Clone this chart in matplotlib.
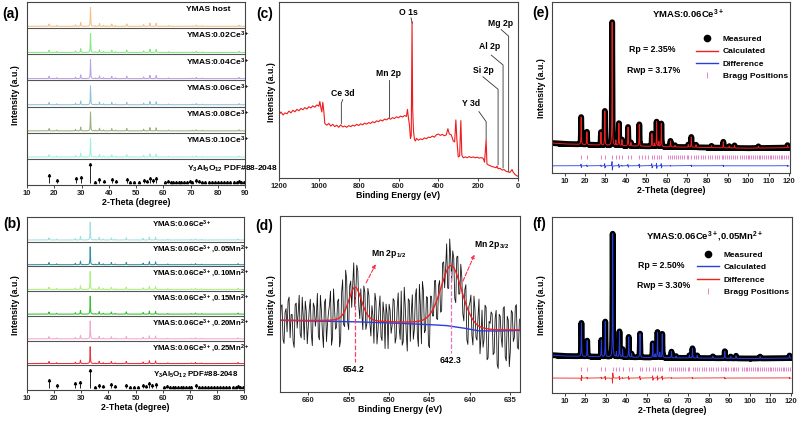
import numpy as np
import matplotlib
matplotlib.use('Agg')
import matplotlib.pyplot as plt
from matplotlib.lines import Line2D

plt.rcParams['font.family'] = ['Liberation Sans', 'DejaVu Sans']
plt.rcParams['font.weight'] = 'bold'
plt.rcParams['mathtext.fontset'] = 'custom'
plt.rcParams['mathtext.rm'] = 'Liberation Sans:bold'
plt.rcParams['mathtext.bf'] = 'Liberation Sans:bold'
plt.rcParams['mathtext.it'] = 'Liberation Sans:bold'
plt.rcParams['mathtext.default'] = 'bf'
plt.rcParams['axes.linewidth'] = 0.8
plt.rcParams['axes.edgecolor'] = '#444444'

# ---- (a) / (b) XRD stacks ----
xrd_pos = [18.1, 20.9, 27.8, 29.7, 33.3, 35.1, 36.6, 38.1, 41.1, 42.5, 46.6, 52.8, 55.1, 57.4, 61.9, 70.6, 72.1, 74.4, 87.8]
xrd_int = [0.12, 0.05, 0.08, 0.2, 1.0, 0.03, 0.14, 0.05, 0.12, 0.04, 0.13, 0.09, 0.17, 0.16, 0.04, 0.03, 0.06, 0.03, 0.06]

a_labels = ['YMAS host', 'YMAS:0.02Ce$^{3+}$', 'YMAS:0.04Ce$^{3+}$', 'YMAS:0.06Ce$^{3+}$',
            'YMAS:0.08Ce$^{3+}$', 'YMAS:0.10Ce$^{3+}$']
a_colors = ['#f2c083', '#80ec80', '#b9a2e0', '#90c0d8', '#98b07a', '#a0f0e0']
a_scales = [0.85, 0.85, 0.85, 0.85, 0.85, 0.85]

b_labels = ['YMAS:0.06Ce$^{3+}$', 'YMAS:0.06Ce$^{3+}$,0.05Mn$^{2+}$', 'YMAS:0.06Ce$^{3+}$,0.10Mn$^{2+}$',
            'YMAS:0.06Ce$^{3+}$,0.15Mn$^{2+}$', 'YMAS:0.06Ce$^{3+}$,0.20Mn$^{2+}$', 'YMAS:0.06Ce$^{3+}$,0.25Mn$^{2+}$']
b_colors = ['#a0e0e0', '#3090a0', '#a8f080', '#30c030', '#f0a8d0', '#e83040']
b_scales = [0.85, 0.85, 0.85, 0.85, 0.85, 0.8]

pdf_pos = [18.1, 20.9, 27.8, 29.7, 33.3, 35.1, 36.6, 38.1, 41.1, 42.5, 46.6, 47.8, 49.4, 51.0, 52.8,
           53.9, 55.1, 56.2, 57.4, 60.6, 61.7, 62.7, 63.7, 64.6, 65.6, 66.6, 67.6, 68.6, 69.9, 70.6,
           72.2, 73.3, 74.4, 75.5, 76.8, 77.8, 78.9, 80.2, 81.2, 82.2, 83.5, 84.6, 85.8, 87.0, 87.8,
           88.6, 89.5]
pdf_int = [0.32, 0.14, 0.2, 0.25, 0.75, 0.06, 0.15, 0.1, 0.16, 0.1, 0.15, 0.05, 0.06, 0.06, 0.12,
           0.1, 0.2, 0.14, 0.18, 0.04, 0.08, 0.05, 0.06, 0.04, 0.05, 0.04, 0.04, 0.05, 0.07, 0.06,
           0.12, 0.07, 0.06, 0.04, 0.05, 0.04, 0.04, 0.05, 0.04, 0.04, 0.04, 0.05, 0.04, 0.05, 0.08,
           0.06, 0.06]
pdf_label = 'Y$_3$Al$_5$O$_{12}$ PDF#88-2048'

# ---- (c) XPS survey ----
c_ev = [1200, 1190, 1180, 1170, 1160, 1150, 1140, 1130, 1120, 1110, 1100, 1090, 1080, 1070, 1060, 1050,
        1040, 1030, 1020, 1010, 1000, 995, 990, 985, 980, 975, 970, 960, 950, 940, 930, 920, 910, 900,
        890, 880, 870, 860, 850, 840, 830, 820, 810, 800, 790, 780, 770, 760, 750, 740, 730, 720, 710,
        700, 690, 680, 670, 660, 650, 640, 630, 620, 610, 600, 590, 580, 570, 560, 555, 550, 545, 540,
        536, 532, 529, 525, 520, 515, 510, 500, 490, 480, 470, 460, 450, 440, 430, 420, 410, 400, 390,
        380, 370, 360, 352, 345, 335, 325, 318, 312, 307, 300, 293, 287, 282, 275, 265, 255, 245, 235,
        225, 215, 205, 195, 185, 175, 168, 160, 156, 150, 140, 130, 120, 110, 105, 100, 90, 80, 70, 60,
        50, 40, 30, 25, 15, 5, 0]
c_int = [36, 37.5, 35.8, 37, 36.5, 38, 37, 38.5, 37.6, 39, 38.2, 39.5, 38.8, 40, 39.2, 40.5,
         39.8, 41, 40.2, 41.5, 40.8, 43.5, 40, 37.5, 43, 38, 31, 30, 31, 29.5, 30.5, 29.2, 30, 28.8,
         30.2, 29, 29.5, 28.8, 29.8, 29.2, 30, 29.5, 30.5, 29.8, 30.8, 30.2, 31.2, 30.6, 31.5, 31, 32, 31.4, 32.5,
         32, 33, 32.4, 33.5, 33, 34, 33.4, 34.3, 33.8, 34.8, 34.2, 35.2, 34.6, 35.5, 35, 39, 34, 30, 22.5,
         24, 88.7, 40, 27, 22, 21, 22.5, 21.5, 22.2, 21.8, 22.8, 22.3, 23.2, 23, 23.8, 23.2, 24.5, 25, 24.2,
         24.8, 24, 24.5, 28, 25, 24.5, 21, 20.5, 33, 22, 12, 12.5, 32.6, 13, 11.5, 12, 11.5, 12.2, 11.6,
         12, 11.5, 11.8, 11.3, 11.6, 11.2, 9, 21.7, 8, 7.5, 7, 6.5, 6.2, 5.8, 6.8, 5.3, 5.5, 4.5, 4.8, 3.8,
         3.5, 3.2, 4.8, 3.5, 2, 1.2, 1]
c_names = ['O 1s', 'Mn 2p', 'Ce 3d', 'Y 3d', 'Si 2p', 'Al 2p', 'Mg 2p']
c_text_xy = [(552, 94), (648, 59.4), (879, 48), (234, 42.5), (176, 61.3), (144, 74.5), (89, 88)]
c_lines = [[(537, 91), (531, 88)],
           [(648, 34.5), (648, 55.5)],
           [(887, 31), (887, 42.5), (880, 44.5)],
           [(196, 37.7), (160, 32), (160, 22)],
           [(176, 57.5), (100, 50.4), (100, 7.5)],
           [(134, 69.8), (75, 64.2), (75, 5.7)],
           [(84, 84.3), (47, 80.6), (47, 3.8)]]

# ---- (d) Mn 2p high resolution ----
d_bg_ev = [633.8, 637, 639, 641, 643, 646, 650, 655, 663.5]
d_bg_int = [35.0, 34.6, 34.8, 36.5, 37.8, 38.5, 39.3, 40.0, 40.7]
d_centers = [654.2, 642.3]
d_heights = [19.5, 34.5]
d_fwhm = [1.9, 3.1]
# noise of the measured trace, two interleaved halves
d_resid_a = [-5, 8, -12, 6, 10, -9, 3, -14, 9, 4, -7, 12, -10, 5, -3, 11, -13, 7, 2, -8,
             13, -6, 9, -11, 4, 15, -9, 6, -4, 10, -12, 18, -8, 14, -15, 7, 3, -10, 12, -7,
             5, -13, 9, -5, 11, -9, 2, 14, -12, 6, -8, 10, -14, 4, 9, -6, 12, -11, 7, -3,
             16, -10, 8, -15, 11, 5, -9, 13, -7, 19, -12, 15, -6, 10, -17, 8, -4, 12, -11, 6,
             -13, 9, 3, -10, 14, -8, 5, -16, 11, -5, 7, -12, 10, -18, 6, -9, 13, -7, 4, -14,
             9, -6, 11, -15, 3, 8, -12, 10, -20, 7, -9, 12, -16, 5, -11, 9, -4, 13, -10, 6]
d_resid_b = [7, -10, 4, -6, 12, 3, -11, 8, -4, 13, -9, 2, 10, -12, 6, -7, 9, -3, 14, -10,
             5, -14, 11, -2, 8, -13, 16, -5, 9, -15, 12, -6, 20, -10, 6, -8, 13, -4, 10, -12,
             -6, 11, -9, 14, -3, 7, -12, 10, -5, 13, -10, 4, 9, -14, 6, -2, 11, -8, 15, -9,
             -12, 18, -6, 12, -10, 14, -4, 17, -13, 8, 20, -7, 11, -15, 9, -3, 13, -9, 5, -12,
             10, -6, 14, -11, 4, 8, -15, 9, -7, 12, -10, 6, -17, 3, 11, -13, 7, -8, 14, -5,
             -10, 12, -16, 4, 9, -13, 6, -18, 8, -4, 11, -14, 7, -19, 10, -6, 12, -9, 5, -15]

# ---- (e) / (f) Rietveld ----
rv_pos = [18.1, 20.9, 27.8, 29.7, 33.3, 35.1, 36.6, 38.1, 41.1, 42.5, 46.6, 52.8, 53.9, 55.1,
          56.2, 57.4, 61.9, 64.1, 70.6, 72.1, 74.4, 82.0, 87.8, 90.7, 93.3, 105.0, 119.3]
e_hts = [16, 7.5, 7.5, 20, 72, 3, 13, 3.5, 11, 2, 12.7, 7.5, 2, 14.5, 3, 13.5, 3.5, 1, 1.5, 6,
         1.5, 1, 3.5, 1, 1.5, 1, 1.5]
f_hts = [19, 9, 9.5, 20, 70, 3, 14.5, 4.5, 11.5, 2, 13.5, 8, 2, 14.5, 3, 13.5, 3.5, 1, 1.5, 5.5,
         1.5, 1, 4, 1, 1.5, 1, 1.5]
e_dif = [1.2, 0.6, 0.5, 1.5, 3.0, 0, 1.2, 0.3, 1.0, 0, 1.2, 1.5, 0, 1.8, 0, 1.5, 0.3, 0, 0, 0.6,
         0, 0, 0.5, 0, 0, 0, 0.5]
f_dif = [-1.8, 0.6, 0.5, 1.2, -3.5, 0, 1.2, 0.3, 1.0, 0, 1.2, 1.5, 0, 1.5, 0, 1.3, 0.3, 0, 0, 0.5,
         0, 0, 0.6, 0, 0, 0, 0.5]
rv_bg_x = [4, 10, 30, 60, 100, 120]
e_bg = [17.5, 17.0, 16.2, 15.3, 14.5, 14.8]
f_bg = [21.5, 21.0, 20.5, 20.0, 19.6, 19.8]
bragg_pos = pdf_pos + [90.7, 91.6, 92.5, 93.4, 94.3, 96.0, 97.0, 97.9, 98.8, 99.7, 100.6, 101.5,
                       102.4, 103.3, 104.2, 105.1, 106.0, 106.9, 107.8, 108.7, 109.6, 110.5, 111.4,
                       112.3, 113.2, 114.1, 115.0, 115.9, 116.8, 117.7, 118.6, 119.5]


def rect(l, t, r, b):
    return [l / 800, 1 - b / 421, (r - l) / 800, (b - t) / 421]


def lorentz(x, pos, hts, hw):
    y = np.zeros_like(x)
    for p, h in zip(pos, hts):
        y += h / (1 + ((x - p) / hw) ** 2)
    return y


def style(ax):
    ax.set_yticks([])
    ax.tick_params(axis='x', labelsize=5.5, length=2, width=0.6, pad=1.5, colors='#222222')
    for lab in ax.get_xticklabels():
        lab.set_fontweight('bold')


def stacked(ax, labels, colors, scales, text_x, pdf_x, fs):
    n = len(labels)
    x = np.arange(10, 90.01, 0.02)
    prof = lorentz(x, xrd_pos, xrd_int, 0.09)
    for i, (lab, col, sc) in enumerate(zip(labels, colors, scales)):
        row = n - i
        ax.plot(x, row + 0.07 + sc * 0.85 * prof, color=col, lw=0.75)
        ax.text(text_x, row + 0.71, lab, fontsize=fs, va='center', ha='left')
    for k in range(1, n + 1):
        ax.axhline(k, color='#555555', lw=0.8)
    top = 0.07 + np.array(pdf_int)
    ax.vlines(pdf_pos, 0.07, top, color='k', lw=0.6)
    ax.plot(pdf_pos, top, '^', color='k', ms=1.6)
    ax.text(pdf_x, 0.6, pdf_label, fontsize=fs, va='center', ha='left')
    ax.set_xlim(10, 90)
    ax.set_ylim(0, n + 1)
    ax.set_xticks(range(10, 91, 10))
    style(ax)
    ax.set_xlabel('2-Theta (degree)', fontsize=6.3, fontweight='bold', labelpad=1)


def rietveld(ax, hts, bg_y, dif, calc_c, dif_c, dif_base, bragg_y, title, rp, rwp,
             title_xy, rp_xy, rwp_xy, leg_xy):
    x = np.arange(4, 120.01, 0.02)
    bg = np.interp(x, rv_bg_x, bg_y)
    calc = bg + lorentz(x, rv_pos, hts, 0.1)
    # measured points: thick band of dots
    ax.plot(x, calc, color='k', lw=4.2, solid_joinstyle='round', solid_capstyle='round')
    ax.plot(x[::10], calc[::10], 'o', color='k', ms=3.4, mew=0)
    ax.plot(x, calc, color=calc_c, lw=0.7)
    ax.plot(bragg_pos, [bragg_y] * len(bragg_pos), '|', color='#e070c0', ms=3.5, mew=0.6)
    d = np.full_like(x, dif_base)
    for p, a in zip(rv_pos, dif):
        u = (x - p) / 0.12
        d += a * (-2.6 * u / (1 + u ** 2) ** 2)
    ax.plot(x, d, color=dif_c, lw=0.6)
    ax.text(*title_xy, title, fontsize=6.8, ha='center', va='center')
    ax.text(*rp_xy, rp, fontsize=6.3, ha='center', va='center')
    ax.text(*rwp_xy, rwp, fontsize=6.3, ha='center', va='center')
    handles = [Line2D([], [], marker='o', color='k', ls='none', ms=4.5),
               Line2D([], [], color=calc_c, lw=1),
               Line2D([], [], color=dif_c, lw=1),
               Line2D([], [], marker='|', color='#e070c0', ls='none', ms=4, mew=0.6)]
    ax.legend(handles, ['Measured', 'Calculated', 'Difference', 'Bragg Positions'],
              loc='upper left', bbox_to_anchor=leg_xy, frameon=False, fontsize=6,
              handlelength=2.6, labelspacing=0.55, handletextpad=0.6, borderpad=0.2)
    ax.set_xlim(3.8, 120.5)
    ax.set_ylim(0, 100)
    ax.set_xticks(range(10, 121, 10))
    style(ax)
    ax.set_xlabel('2-Theta (degree)', fontsize=6.3, fontweight='bold', labelpad=1)


fig = plt.figure(figsize=(8, 4.21), dpi=100)

ax_a = fig.add_axes(rect(27, 2, 245, 185))
stacked(ax_a, a_labels, a_colors, a_scales, 68.3, 68.7, 6)
ax_b = fig.add_axes(rect(27, 217, 244, 390))
stacked(ax_b, b_labels, b_colors, b_scales, 56, 56.3, 5.7)

# (c)
ax_c = fig.add_axes(rect(279, 2, 518, 178))
ax_c.plot(c_ev, c_int, color='#ee1c1c', lw=0.8)
for name, (tx, ty), pts in zip(c_names, c_text_xy, c_lines):
    px, py = zip(*pts)
    ax_c.plot(px, py, color='#333333', lw=0.6)
    ax_c.text(tx, ty, name, fontsize=6.2, ha='center', va='center')
ax_c.set_xlim(1200, 0)
ax_c.set_ylim(0, 100)
ax_c.set_xticks(range(0, 1201, 200))
style(ax_c)
ax_c.set_xlabel('Binding Energy (eV)', fontsize=6.3, fontweight='bold', labelpad=1)

# (d)
ax_d = fig.add_axes(rect(280, 216, 520, 392))
d_resid = np.column_stack([d_resid_a, d_resid_b]).ravel()
xd = 663.5 - 0.125 * np.arange(len(d_resid))
xf = np.linspace(663.5, 633.8, 600)
bg_d = np.interp(xd, d_bg_ev, d_bg_int)
bg_f = np.interp(xf, d_bg_ev, d_bg_int)


def pv(x):
    y = np.zeros_like(x)
    for c, h, fw in zip(d_centers, d_heights, d_fwhm):
        g = np.exp(-4 * np.log(2) * ((x - c) / fw) ** 2)
        lo = 1 / (1 + ((x - c) / (fw / 2)) ** 2)
        y += h * (0.7 * g + 0.3 * lo)
    return y


ax_d.plot(xd, bg_d + pv(xd) + 1.1 * d_resid, color='#151515', lw=0.6)
ax_d.plot(xf, bg_f, color='#2a3ee0', lw=1.0)
ax_d.plot(xf, bg_f + pv(xf), color='#ee2020', lw=1.0)
ax_d.plot([654.2, 654.2], [57, 17], color='#ff4060', lw=0.9, ls='--')
ax_d.plot([642.3, 642.3], [69, 22], color='#e070c8', lw=0.9, ls='--')
ax_d.text(654.4, 12.9, '654.2', fontsize=6.2, ha='center', va='center')
ax_d.text(642.4, 18, '642.3', fontsize=6.2, ha='center', va='center')
ax_d.annotate('', xy=(651.5, 74), xytext=(653.0, 60.6),
              arrowprops=dict(arrowstyle='-|>', ls='--', color='#ff3050', lw=0.8, mutation_scale=5))
ax_d.annotate('', xy=(639.3, 79.5), xytext=(641.0, 61.5),
              arrowprops=dict(arrowstyle='-|>', ls='--', color='#ff3050', lw=0.8, mutation_scale=5))
ax_d.text(650.1, 78.6, 'Mn 2p$_{1/2}$', fontsize=6.2, ha='center', va='center')
ax_d.text(637.3, 83.3, 'Mn 2p$_{3/2}$', fontsize=6.2, ha='center', va='center')
ax_d.set_xlim(663.5, 633.8)
ax_d.set_ylim(0, 100)
ax_d.set_xticks(range(635, 661, 5))
style(ax_d)
ax_d.set_xlabel('Binding Energy (eV)', fontsize=6.3, fontweight='bold', labelpad=1)

# (e), (f)
ax_e = fig.add_axes(rect(552, 2, 790, 173))
rietveld(ax_e, e_hts, e_bg, e_dif, '#ee2020', '#2a3ee0', 4.2, 9.6, 'YMAS:0.06Ce$^{3+}$',
         'Rp = 2.35%', 'Rwp = 3.17%', (70.7, 93), (52.8, 72), (53.6, 60), (0.58, 0.84))
ax_f = fig.add_axes(rect(552, 217, 792, 393))
rietveld(ax_f, f_hts, f_bg, f_dif, '#2a3ee0', '#ee2020', 8.5, 13.6,
         'YMAS:0.06Ce$^{3+}$,0.05Mn$^{2+}$', 'Rp = 2.50%', 'Rwp = 3.30%',
         (78, 88.7), (57, 72.6), (58, 61), (0.58, 0.84))

# panel letters and y labels
for lbl, px, py in [('(a)', 11, 14), ('(b)', 12, 224), ('(c)', 265, 14), ('(d)', 264, 226),
                    ('(e)', 541, 13), ('(f)', 539, 224)]:
    fig.text(px / 800, 1 - py / 421, lbl, fontsize=10, ha='center', va='center')
for px, py in [(15, 95), (15, 305), (272, 92), (272, 305), (542, 88), (542, 305)]:
    fig.text(px / 800, 1 - py / 421, 'Intensity (a.u.)', fontsize=6.3, rotation=90,
             ha='center', va='center')

fig.savefig('out.png', dpi=100)
